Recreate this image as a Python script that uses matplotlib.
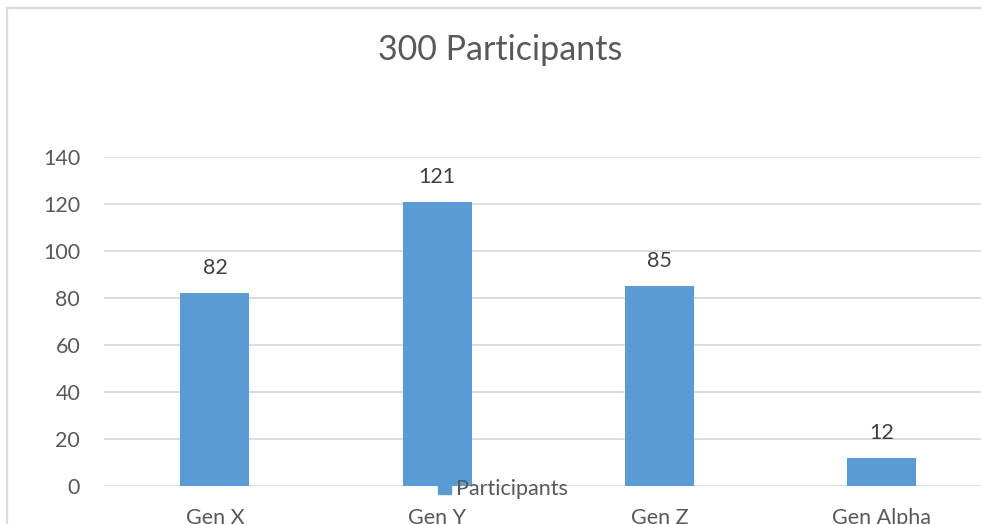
import matplotlib.pyplot as plt
from matplotlib.patches import Rectangle, Patch

categories = ["Gen X", "Gen Y", "Gen Z", "Gen Alpha"]
participants = [82, 121, 85, 12]
y_ticks = [0, 20, 40, 60, 80, 100, 120, 140]
title = "300 Participants"
series_name = "Participants"

W, H = 981, 524
BAR = "#5B9BD5"
GRID = "#D9D9D9"
TEXT = "#595959"
FONT = ["Lato", "DejaVu Sans"]
FS = 15.5

fig = plt.figure(figsize=(W / 100, H / 100), dpi=100)
fig.patch.set_facecolor("white")

# outer chart border (runs off the right and bottom edges)
fig.patches.append(Rectangle((6.5 / W, -0.1), 1.2, 1 - 7.5 / H + 0.1,
                             transform=fig.transFigure, fill=False,
                             edgecolor=GRID, linewidth=1.6))

left, right = 103.75, 993.0
top, bottom = 157.0, 486.0
ax = fig.add_axes([left / W, 1 - bottom / H, (right - left) / W, (bottom - top) / H])
ax.set_facecolor("none")

x = range(len(categories))
bars = ax.bar(x, participants, width=0.31, color=BAR, zorder=3)
ax.set_xlim(-0.5, len(categories) - 0.5)
ax.set_ylim(0, 140)
ax.set_yticks(y_ticks)
ax.set_yticklabels([str(v) for v in y_ticks], fontsize=FS, color=TEXT, family=FONT)
ax.set_xticks(list(x))
ax.set_xticklabels(categories, fontsize=FS, color=TEXT, family=FONT)
ax.tick_params(axis="y", length=0, pad=17)
ax.tick_params(axis="x", length=0, pad=16)
ax.grid(axis="y", color=GRID, linewidth=1.3, zorder=0)
for s in ax.spines.values():
    s.set_visible(False)

for b, v in zip(bars, participants):
    ax.annotate(str(v), (b.get_x() + b.get_width() / 2, v), xytext=(0, 18),
                textcoords="offset points", ha="center", va="center",
                fontsize=FS, color="#404040", family=FONT)

fig.text(500 / W, 1 - 50 / H, title, ha="center", va="center",
         fontsize=24.5, color=TEXT, family=FONT)

leg = fig.legend(handles=[Patch(color=BAR, label=series_name)],
                 loc="center", bbox_to_anchor=(503 / W, 1 - 489 / H),
                 frameon=False, handlelength=0.6, handleheight=0.6,
                 handletextpad=0.25, prop={"family": FONT, "size": FS})
for t in leg.get_texts():
    t.set_color(TEXT)

fig.savefig("out.png", dpi=100)
